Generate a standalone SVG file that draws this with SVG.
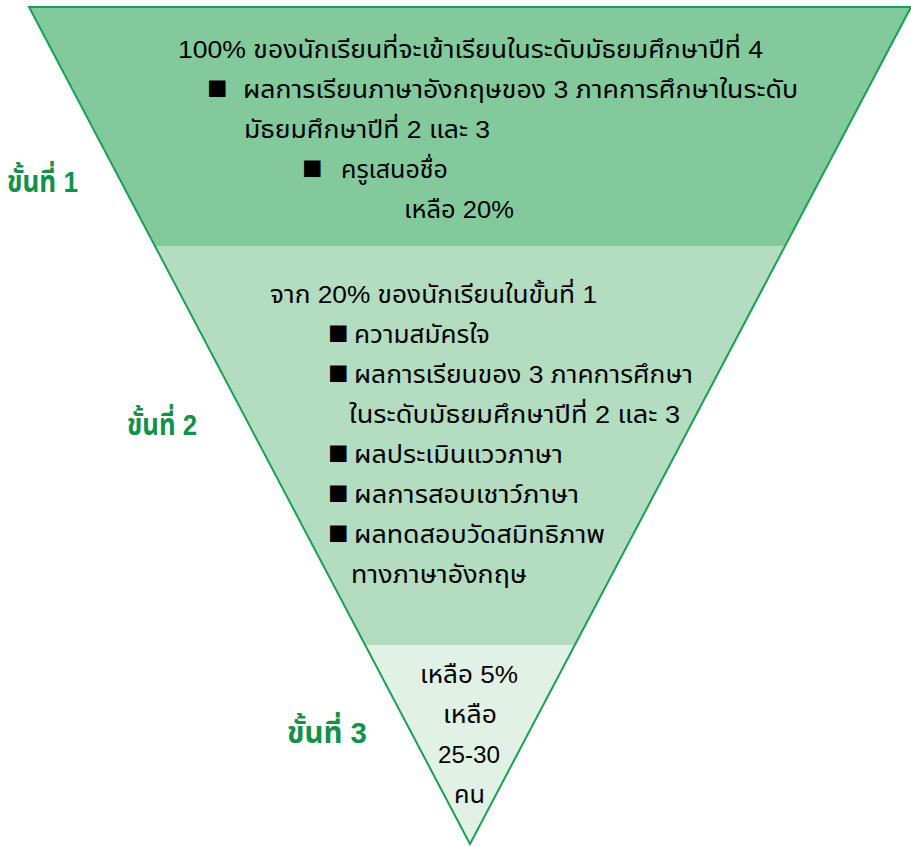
<svg xmlns="http://www.w3.org/2000/svg" width="911" height="846" viewBox="0 0 911 846">
<style>
.t{font-family:"Liberation Sans","Noto Sans Thai","DejaVu Sans",sans-serif;font-size:24px;fill:#000}
.s3{font-size:24px}
.b{font-family:"Liberation Sans","DejaVu Sans",sans-serif;font-size:34px;fill:#000}
.c{text-anchor:middle}
.lb{font-family:"Liberation Sans","Noto Sans Thai","DejaVu Sans",sans-serif;font-size:30px;font-weight:bold;fill:#13914a}
</style>
<defs>
<clipPath id="tri"><polygon points="29,7 911,7 470,844"/></clipPath>
</defs>
<g id="bands" clip-path="url(#tri)">
<rect id="band1" x="0" y="0" width="911" height="246" fill="#82ca9c"/>
<rect id="band2" x="0" y="246" width="911" height="399" fill="#b3dcc1"/>
<rect id="band3" x="0" y="645" width="911" height="201" fill="#e1f1e5"/>
</g>
<polygon id="outline" points="29,7 911,7 470,844" fill="none" stroke="#1aa053" stroke-width="2"/>
<g id="stage1">
<text class="t" x="178" y="58" textLength="585" lengthAdjust="spacingAndGlyphs">100% ของนักเรียนที่จะเข้าเรียนในระดับมัธยมศึกษาปีที่ 4</text>
<text class="b" x="207" y="99">■</text>
<text class="t" x="243" y="98" textLength="555" lengthAdjust="spacingAndGlyphs">ผลการเรียนภาษาอังกฤษของ 3 ภาคการศึกษาในระดับ</text>
<text class="t" x="244" y="138" textLength="246" lengthAdjust="spacingAndGlyphs">มัธยมศึกษาปีที่ 2 และ 3</text>
<text class="b" x="302" y="179">■</text>
<text class="t" x="341" y="178" textLength="107" lengthAdjust="spacingAndGlyphs">ครูเสนอชื่อ</text>
<text class="t" x="404" y="218" textLength="110" lengthAdjust="spacingAndGlyphs">เหลือ 20%</text>
</g>
<g id="stage2">
<text class="t" x="270" y="303" textLength="327" lengthAdjust="spacingAndGlyphs">จาก 20% ของนักเรียนในขั้นที่ 1</text>
<text class="b" x="328" y="344">■</text>
<text class="t" x="354" y="343" textLength="136" lengthAdjust="spacingAndGlyphs">ความสมัครใจ</text>
<text class="b" x="328" y="384">■</text>
<text class="t" x="354" y="383" textLength="339" lengthAdjust="spacingAndGlyphs">ผลการเรียนของ 3 ภาคการศึกษา</text>
<text class="t" x="349" y="423" textLength="331" lengthAdjust="spacingAndGlyphs">ในระดับมัธยมศึกษาปีที่ 2 และ 3</text>
<text class="b" x="328" y="464">■</text>
<text class="t" x="354" y="463" textLength="209" lengthAdjust="spacingAndGlyphs">ผลประเมินแววภาษา</text>
<text class="b" x="328" y="504">■</text>
<text class="t" x="354" y="503" textLength="225" lengthAdjust="spacingAndGlyphs">ผลการสอบเชาว์ภาษา</text>
<text class="b" x="328" y="544">■</text>
<text class="t" x="354" y="543" textLength="251" lengthAdjust="spacingAndGlyphs">ผลทดสอบวัดสมิทธิภาพ</text>
<text class="t" x="351" y="583" textLength="176" lengthAdjust="spacingAndGlyphs">ทางภาษาอังกฤษ</text>
</g>
<g id="stage3">
<text class="t s3" x="420" y="683" textLength="98" lengthAdjust="spacingAndGlyphs">เหลือ 5%</text>
<text class="t s3" x="443" y="723" textLength="54" lengthAdjust="spacingAndGlyphs">เหลือ</text>
<text class="t s3" x="438" y="763" textLength="62" lengthAdjust="spacingAndGlyphs">25-30</text>
<text class="t s3" x="454" y="803" textLength="31" lengthAdjust="spacingAndGlyphs">คน</text>
</g>
<g id="labels">
<text class="lb" x="7" y="192" textLength="71" lengthAdjust="spacingAndGlyphs">ขั้นที่ 1</text>
<text class="lb" x="127" y="435" textLength="70" lengthAdjust="spacingAndGlyphs">ขั้นที่ 2</text>
<text class="lb" x="287" y="743" textLength="80" lengthAdjust="spacingAndGlyphs">ขั้นที่ 3</text>
</g>
</svg>
